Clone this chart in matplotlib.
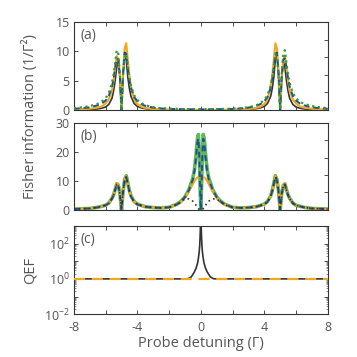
import matplotlib

matplotlib.use("Agg")
import matplotlib.pyplot as plt
from matplotlib.ticker import LogLocator, NullFormatter

plt.rcParams["font.family"] = ["Open Sans", "DejaVu Sans"]
plt.rcParams["mathtext.fontset"] = "custom"
plt.rcParams["mathtext.rm"] = "Open Sans"
plt.rcParams["axes.unicode_minus"] = False

TXT = "#555555"
EDGE = "#333333"
C_BLACK = "#333333"
C_ORANGE = "#f2a81d"
C_BLUE = "#1d4f91"
C_GREEN = "#2e9a3a"
C_GREEN_B = "#62b85a"

# ---- panel (a): Fisher information, two sideband groups ----
xa = [-8, -7.5, -7, -6.5, -6.25, -6, -5.8, -5.6, -5.5, -5.4, -5.3, -5.2, -5.1, -5.05, -5.0,
      -4.95, -4.9, -4.8, -4.7, -4.6, -4.5, -4.4, -4.2, -4, -3.75, -3.5, -3, -2.5, -2, -1, 0,
      1, 2, 2.5, 3, 3.5, 3.75, 4, 4.2, 4.4, 4.5, 4.6, 4.7, 4.8, 4.9, 4.95,
      5.0, 5.05, 5.1, 5.2, 5.3, 5.4, 5.5, 5.6, 5.8, 6, 6.25, 6.5, 7, 7.5, 8]
fa_black = [0.03, 0.05, 0.08, 0.18, 0.3, 0.5, 0.95, 2.0, 3.2, 5.0, 7.3, 8.4, 5.5, 2.5, 0.0,
            2.8, 6.0, 9.5, 8.6, 5.6, 3.6, 2.3, 1.1, 0.6, 0.35, 0.22, 0.1, 0.05, 0.03, 0.01, 0.0,
            0.01, 0.03, 0.05, 0.1, 0.22, 0.35, 0.6, 1.1, 2.3, 3.6, 5.6, 8.6, 9.5, 6.0, 2.8,
            0.0, 2.5, 5.5, 8.4, 7.3, 5.0, 3.2, 2.0, 0.95, 0.5, 0.3, 0.18, 0.08, 0.05, 0.03]
fa_orange = [0.08, 0.12, 0.2, 0.4, 0.6, 1.1, 1.8, 3.3, 5.0, 7.2, 9.2, 8.7, 5.8, 3.0, 0.0,
             3.3, 6.8, 10.5, 11.4, 8.5, 5.8, 4.0, 1.8, 1.0, 0.55, 0.35, 0.15, 0.08, 0.05, 0.02, 0.01,
             0.02, 0.05, 0.08, 0.15, 0.35, 0.55, 1.0, 1.8, 4.0, 5.8, 8.5, 11.4, 10.5, 6.8, 3.3,
             0.0, 3.0, 5.8, 8.7, 9.2, 7.2, 5.0, 3.3, 1.8, 1.1, 0.6, 0.4, 0.2, 0.12, 0.08]
fa_blue = [0.2, 0.3, 0.45, 0.8, 1.1, 1.6, 2.4, 4.0, 5.3, 7.2, 8.8, 8.6, 5.6, 2.7, 0.0,
           3.0, 6.2, 9.8, 9.6, 7.0, 5.0, 3.7, 2.2, 1.5, 1.0, 0.7, 0.4, 0.25, 0.18, 0.12, 0.1,
           0.12, 0.18, 0.25, 0.4, 0.7, 1.0, 1.5, 2.2, 3.7, 5.0, 7.0, 9.6, 9.8, 6.2, 3.0,
           0.0, 2.7, 5.6, 8.6, 8.8, 7.2, 5.3, 4.0, 2.4, 1.6, 1.1, 0.8, 0.45, 0.3, 0.2]
fa_green = [0.3, 0.45, 0.65, 1.05, 1.4, 2.0, 2.9, 4.6, 6.0, 8.0, 10.2, 9.6, 6.0, 2.9, 0.0,
            2.8, 5.8, 9.0, 9.6, 7.5, 5.5, 4.1, 2.5, 1.7, 1.15, 0.8, 0.45, 0.3, 0.22, 0.15, 0.13,
            0.15, 0.22, 0.3, 0.45, 0.8, 1.15, 1.7, 2.5, 4.1, 5.5, 7.5, 9.6, 9.0, 5.8, 2.8,
            0.0, 2.9, 6.0, 9.6, 10.2, 8.0, 6.0, 4.6, 2.9, 2.0, 1.4, 1.05, 0.65, 0.45, 0.3]

# ---- panel (b): Fisher information with central feature ----
xb = [-8, -7, -6.5, -6, -5.8, -5.6, -5.5, -5.4, -5.3, -5.2, -5.1, -5.05, -5.0, -4.95, -4.9,
      -4.8, -4.7, -4.6, -4.5, -4.4, -4.2, -4, -3.5, -3, -2.5, -2, -1.5, -1.25, -1, -0.75,
      -0.5, -0.4, -0.3, -0.25, -0.2, -0.15, -0.1, -0.05, 0,
      0.05, 0.1, 0.15, 0.2, 0.25, 0.3, 0.4, 0.5, 0.75, 1, 1.25, 1.5, 2, 2.5, 3, 3.5, 4,
      4.2, 4.4, 4.5, 4.6, 4.7, 4.8, 4.9, 4.95, 5.0, 5.05, 5.1, 5.2, 5.3, 5.4, 5.5, 5.6,
      5.8, 6, 6.5, 7, 8]
fb_green = [0.3, 0.5, 0.9, 1.6, 2.4, 4.0, 5.2, 7.0, 9.0, 8.5, 5.6, 2.8, 0.0, 3.2, 6.5,
            10.5, 11.8, 9.2, 6.6, 4.8, 2.9, 2.0, 1.1, 0.8, 0.7, 0.9, 2.0, 3.0, 4.5, 7.0,
            11.0, 14.0, 19.0, 22.5, 25.0, 26.0, 20.0, 9.0, 0.0,
            9.0, 20.0, 26.0, 25.0, 22.5, 19.0, 14.0, 11.0, 7.0, 4.5, 3.0, 2.0, 0.9, 0.7, 0.8, 1.1, 2.0,
            2.9, 4.8, 6.6, 9.2, 11.8, 10.5, 6.5, 3.2, 0.0, 2.8, 5.6, 8.5, 9.0, 7.0, 5.2, 4.0,
            2.4, 1.6, 0.9, 0.5, 0.3]
fb_orange = [0.3, 0.5, 0.9, 1.6, 2.4, 4.0, 5.3, 7.2, 9.2, 8.6, 5.6, 2.8, 0.0, 3.2, 6.6,
             10.6, 11.6, 9.0, 6.5, 4.7, 2.8, 1.9, 1.1, 0.8, 0.7, 0.9, 1.8, 2.7, 4.1, 6.3,
             8.9, 9.9, 10.7, 11.0, 11.2, 11.4, 11.5, 11.6, 11.6,
             11.6, 11.5, 11.4, 11.2, 11.0, 10.7, 9.9, 8.9, 6.3, 4.1, 2.7, 1.8, 0.9, 0.7, 0.8, 1.1, 1.9,
             2.8, 4.7, 6.5, 9.0, 11.6, 10.6, 6.6, 3.2, 0.0, 2.8, 5.6, 8.6, 9.2, 7.2, 5.3, 4.0,
             2.4, 1.6, 0.9, 0.5, 0.3]
fb_blue = [0.3, 0.5, 0.9, 1.6, 2.3, 3.9, 5.1, 6.9, 8.8, 8.3, 5.5, 2.7, 0.0, 3.1, 6.3,
           10.2, 11.4, 8.9, 6.4, 4.6, 2.8, 1.9, 1.1, 0.8, 0.7, 0.9, 1.9, 2.9, 4.4, 6.8,
           10.5, 13.3, 18.0, 21.5, 23.8, 24.5, 19.0, 8.5, 0.0,
           8.5, 19.0, 24.5, 23.8, 21.5, 18.0, 13.3, 10.5, 6.8, 4.4, 2.9, 1.9, 0.9, 0.7, 0.8, 1.1, 1.9,
           2.8, 4.6, 6.4, 8.9, 11.4, 10.2, 6.3, 3.1, 0.0, 2.7, 5.5, 8.3, 8.8, 6.9, 5.1, 3.9,
           2.3, 1.6, 0.9, 0.5, 0.3]
fb_black = [0.3, 0.5, 0.9, 1.6, 2.3, 3.9, 5.1, 6.9, 8.8, 8.3, 5.5, 2.7, 0.0, 3.1, 6.3,
            10.2, 11.4, 8.9, 6.4, 4.6, 2.8, 1.9, 1.1, 0.8, 0.7, 0.9, 1.8, 2.7, 3.8, 3.8,
            3.0, 2.4, 1.6, 1.2, 0.8, 0.45, 0.2, 0.05, 0.0,
            0.05, 0.2, 0.45, 0.8, 1.2, 1.6, 2.4, 3.0, 3.8, 3.8, 2.7, 1.8, 0.9, 0.7, 0.8, 1.1, 1.9,
            2.8, 4.6, 6.4, 8.9, 11.4, 10.2, 6.3, 3.1, 0.0, 2.7, 5.5, 8.3, 8.8, 6.9, 5.1, 3.9,
            2.3, 1.6, 0.9, 0.5, 0.3]

# ---- panel (c): quantum enhancement factor ----
xc = [-8, -2, -1, -0.8, -0.6, -0.4, -0.3, -0.2, -0.15, -0.1, -0.07, -0.05, -0.03, -0.02, 0,
      0.02, 0.03, 0.05, 0.07, 0.1, 0.15, 0.2, 0.3, 0.4, 0.6, 0.8, 1, 2, 8]
qef_black = [1, 1, 1, 1.02, 1.3, 2.5, 4, 8, 15, 35, 80, 200, 600, 1500, 30000,
             1500, 600, 200, 80, 35, 15, 8, 4, 2.5, 1.3, 1.02, 1, 1, 1]
xc_flat = [-8, 8]
qef_flat = [1, 1]

fig = plt.figure(figsize=(3.57, 3.57), dpi=100)
L, W = 0.207, 0.711
ax_a = fig.add_axes([L, 0.692, W, 0.246])
ax_b = fig.add_axes([L, 0.412, W, 0.244])
ax_c = fig.add_axes([L, 0.120, W, 0.247])


def style_axes(ax, label):
    ax.set_xlim(-8, 8)
    ax.set_xticks([-8, -6, -4, -2, 0, 2, 4, 6, 8])
    ax.tick_params(direction="in", length=3, width=0.6, colors=EDGE, labelcolor=TXT,
                   labelsize=9, top=True)
    ax.tick_params(axis="x", pad=5)
    ax.tick_params(axis="y", pad=3)
    for sp in ax.spines.values():
        sp.set_color(EDGE)
        sp.set_linewidth(0.8)
    ax.text(0.025, 0.93, label, transform=ax.transAxes, ha="left", va="top",
            fontsize=10, color=TXT)


def right_ticks(ax, lim, ticks):
    tw = ax.twinx()
    tw.set_ylim(*lim)
    tw.set_yticks(ticks)
    tw.set_yticklabels([])
    tw.tick_params(direction="in", length=3, width=0.6, colors=EDGE)
    for sp in tw.spines.values():
        sp.set_visible(False)


# (a)
ax_a.plot(xa, fa_black, color=C_BLACK, lw=1.2, zorder=2)
ax_a.plot(xa, fa_orange, color=C_ORANGE, lw=1.5, zorder=3)
ax_a.plot(xa, fa_blue, color=C_BLUE, lw=1.4, ls=(0, (3, 2)), zorder=4)
ax_a.plot(xa, fa_green, color=C_GREEN, lw=1.6, ls=(0, (1, 1.6)), zorder=5)
ax_a.set_ylim(0, 15)
ax_a.set_yticks([0, 5, 10, 15])
ax_a.tick_params(right=False)
style_axes(ax_a, "(a)")
ax_a.set_xticklabels([])
right_ticks(ax_a, (0, 15), [0, 3, 6, 9, 12, 15])

# (b)
ax_b.plot(xb, fb_green, color=C_GREEN_B, lw=2.6, zorder=2)
ax_b.plot(xb, fb_orange, color=C_ORANGE, lw=1.5, zorder=3)
ax_b.plot(xb, fb_blue, color=C_BLUE, lw=1.4, ls=(0, (3, 2)), zorder=4)
ax_b.plot(xb, fb_black, color=C_BLACK, lw=1.2, ls=(0, (1, 2)), zorder=5)
ax_b.set_ylim(0, 30)
ax_b.set_yticks([0, 10, 20, 30])
ax_b.tick_params(right=False)
style_axes(ax_b, "(b)")
ax_b.set_xticklabels([])
right_ticks(ax_b, (0, 30), [0, 6, 12, 18, 24, 30])

# (c)
ax_c.plot(xc, qef_black, color=C_BLACK, lw=1.2, zorder=2)
ax_c.plot(xc_flat, qef_flat, color=C_ORANGE, lw=1.6, ls=(0, (5, 3)), zorder=3)
ax_c.set_yscale("log")
ax_c.set_ylim(1e-2, 1e3)
ax_c.set_yticks([1e-2, 1e-1, 1e0, 1e1, 1e2, 1e3])
ax_c.set_yticklabels([r"$10^{-2}$", "", r"$10^{0}$", "", r"$10^{2}$", ""])
ax_c.yaxis.set_minor_locator(LogLocator(base=10, subs=range(2, 10), numticks=20))
ax_c.yaxis.set_minor_formatter(NullFormatter())
ax_c.tick_params(which="minor", direction="in", length=1.5, width=0.4, colors=EDGE, right=True)
style_axes(ax_c, "(c)")
ax_c.tick_params(right=True)
ax_c.set_xticklabels(["-8", "", "-4", "", "0", "", "4", "", "8"])

fig.text(0.085, 0.675, "Fisher information (1/Γ²)", rotation=90, ha="center", va="center",
         fontsize=10.5, color=TXT)
fig.text(0.085, 0.243, "QEF", rotation=90, ha="center", va="center", fontsize=10.5, color=TXT)
fig.text(0.5625, 0.039, "Probe detuning (Γ)", ha="center", va="center", fontsize=10.5, color=TXT)

fig.savefig("out.png", dpi=100)
